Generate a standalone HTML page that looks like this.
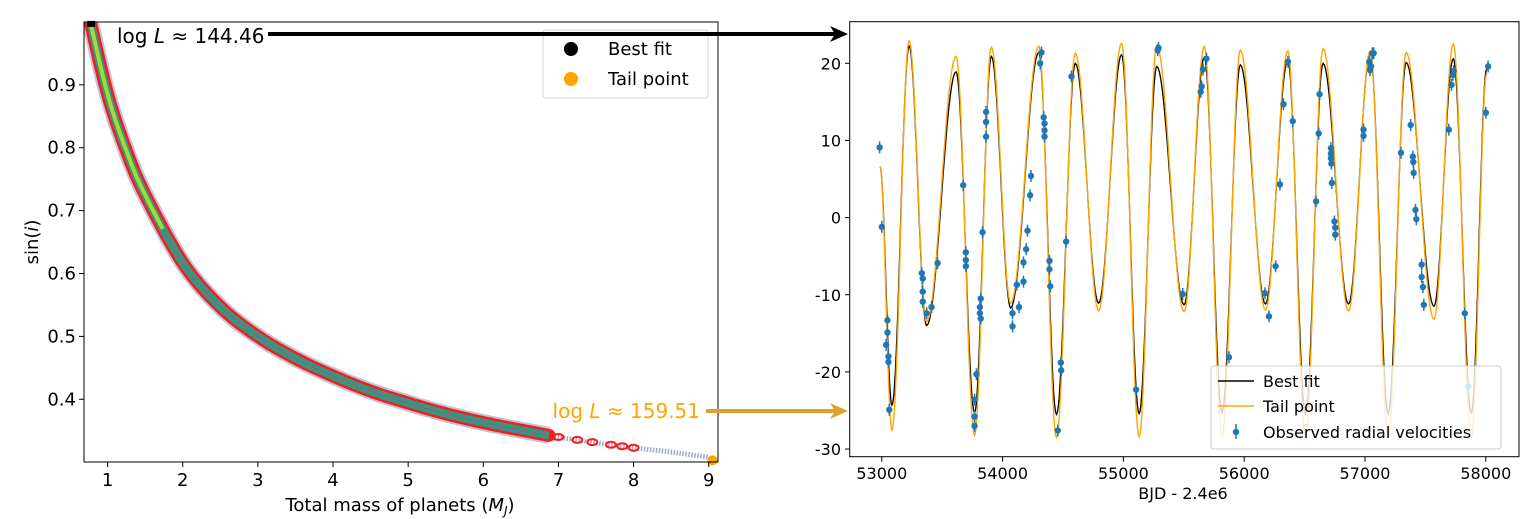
<!DOCTYPE html>
<html><head><meta charset="utf-8"><style>
html,body{margin:0;padding:0;background:#fff;}
svg{display:block;font-family:"DejaVu Sans","Liberation Sans",sans-serif;}
</style></head><body>
<svg id="fig" width="1535" height="519" viewBox="0 0 1535 519" xmlns="http://www.w3.org/2000/svg"></svg>
<script>
// ---- Left chart data ----
const massVals = [0.77,1.0,1.25,1.5,2.0,2.5,3.0,3.5,4.0,4.5,5.0,5.5,6.0,6.5,7.0,7.5,8.0,8.5,9.0];
const sinVals  = [1.0,0.885,0.795,0.725,0.617,0.547,0.50,0.465,0.437,0.413,0.394,0.377,0.363,0.351,0.340,0.331,0.323,0.316,0.308];
const leftXTicks = [1,2,3,4,5,6,7,8,9];
const leftYTicks = [0.4,0.5,0.6,0.7,0.8,0.9];
const bestFitPt = [0.78, 1.0];
const tailPt = [9.05, 0.303];
const redBlobM = [7.0,7.25,7.45,7.7,7.85,8.0];
// ---- Right chart data ----
const bestT = [52985,53084,53226,53371,53615,53768,53907,54067,54300,54446,54602,54795,54985,55130,55276,55502,55670,55816,55968,56176,56361,56507,56653,56864,57043,57192,57341,57571,57731,57880,58008];
const bestV = [6.6,-24.3,22.2,-14.0,18.9,-25.3,20.9,-11.7,21.4,-25.5,20.0,-11.1,21.1,-25.4,19.6,-11.3,20.8,-25.3,19.8,-11.2,20.4,-25.4,20.0,-11.2,21.3,-25.4,20.1,-11.5,20.6,-25.3,19.3];
const tailV = [6.6,-27.5,22.9,-13.5,20.9,-28.2,22.1,-11.1,22.2,-28.5,21.3,-12.1,22.6,-28.4,22.3,-12.2,22.2,-28.4,21.7,-12.0,21.6,-28.4,21.9,-12.1,21.6,-28.4,21.4,-13.2,22.5,-28.4,18.7];
const obsT = [52982,53000,53036,53047,53047,53055,53055,53062,53331,53339,53339,53339,53371,53412,53462,53674,53696,53696,53696,53768,53768,53768,53783,53812,53812,53819,53819,53834,53863,53863,53863,54082,54082,54118,54136,54173,54173,54195,54206,54228,54235,54311,54322,54340,54347,54347,54347,54388,54388,54395,54457,54482,54485,54526,54570,55105,55284,55291,55491,55640,55648,55659,55688,55874,56172,56205,56260,56296,56325,56362,56402,56595,56617,56624,56718,56718,56718,56722,56726,56747,56754,56754,56988,56988,57035,57042,57050,57061,57072,57298,57378,57396,57400,57403,57418,57425,57469,57469,57480,57487,57694,57716,57727,57734,57826,57855,58000,58019];
const obsV = [9.1,-1.2,-16.5,-13.3,-14.9,-18.0,-18.7,-24.9,-7.2,-7.9,-9.6,-10.9,-12.4,-11.6,-5.9,4.2,-4.5,-5.5,-6.3,-23.6,-25.8,-27.0,-20.3,-11.6,-12.4,-13.1,-10.5,-1.9,13.7,12.4,10.5,-12.4,-14.1,-8.7,-11.6,-8.3,-5.8,-4.1,-1.7,2.9,5.4,20.0,21.4,13.0,12.2,11.3,10.5,-5.6,-6.7,-8.9,-27.6,-18.8,-19.8,-3.1,18.3,-22.3,21.7,22.0,-9.9,16.3,17.0,19.2,20.6,-18.1,-9.8,-12.8,-6.3,4.3,14.7,20.2,12.5,2.1,10.9,16.0,9.0,8.3,7.7,7.0,4.5,-0.5,-1.3,-2.2,11.4,10.6,20.2,19.1,19.6,21.3,21.3,8.4,12.0,7.9,7.2,5.8,1.0,-0.2,-6.1,-7.7,-9.0,-11.3,11.4,17.2,18.5,19.0,-12.4,-21.9,13.6,19.6];
const rightXTicks = [53000,54000,55000,56000,57000,58000];
const rightYTicks = [-30,-20,-10,0,10,20];

const NS = "http://www.w3.org/2000/svg";
const svg = document.getElementById('fig');
function mk(tag, attrs, parent){ const e=document.createElementNS(NS,tag); for(const k in attrs) e.setAttribute(k,attrs[k]); (parent||svg).appendChild(e); return e; }

const lx = v => 107.6 + (v-1)*75.14;
const ly = v => 399.3 - (v-0.4)*629;
function interpSin(m){
  for(let i=0;i<massVals.length-1;i++){ if(m<=massVals[i+1]){ const f=(m-massVals[i])/(massVals[i+1]-massVals[i]); return sinVals[i]+(sinVals[i+1]-sinVals[i])*f; } }
  return sinVals[sinVals.length-1];
}
function smoothPath(maxM, minM){
  const P=[]; massVals.forEach((m,i)=>{ P.push([lx(m),ly(sinVals[i]),m]); });
  let d='';
  for(let i=0;i<P.length-1;i++){
    const p0=P[Math.max(0,i-1)],p1=P[i],p2=P[i+1],p3=P[Math.min(P.length-1,i+2)];
    for(let s=0;s<=12;s++){
      const t=s/12,t2=t*t,t3=t2*t;
      const x=0.5*((2*p1[0])+(-p0[0]+p2[0])*t+(2*p0[0]-5*p1[0]+4*p2[0]-p3[0])*t2+(-p0[0]+3*p1[0]-3*p2[0]+p3[0])*t3);
      const y=0.5*((2*p1[1])+(-p0[1]+p2[1])*t+(2*p0[1]-5*p1[1]+4*p2[1]-p3[1])*t2+(-p0[1]+3*p1[1]-3*p2[1]+p3[1])*t3);
      const m=p1[2]+(p2[2]-p1[2])*t;
      if(m>maxM || m<minM) continue;
      d+=(d?'L':'M')+x.toFixed(1)+','+y.toFixed(1);
    }
  }
  return d;
}
const gL = mk('g',{});


const clipL = mk('clipPath',{id:'clipL'}); mk('rect',{x:84,y:22,width:634,height:440},clipL);
const band = mk('g',{'clip-path':'url(#clipL)'},gL);


const dRed=smoothPath(6.9,0), dTop=smoothPath(1.75,0), dTail=smoothPath(99,6.8);
mk('path',{d:dTail,fill:'none',stroke:'#2b3d8a','stroke-width':5,'stroke-opacity':0.45,'stroke-dasharray':'1.5 1.5'},band);
mk('path',{d:dRed,fill:'none',stroke:'#2b3d8a','stroke-width':17,'stroke-opacity':0.3,'stroke-linejoin':'round'},band);
mk('path',{d:dRed,fill:'none',stroke:'#ff1a1a','stroke-width':13,'stroke-linejoin':'round','stroke-linecap':'round'},band);
mk('path',{d:dRed,fill:'none',stroke:'#2a9a8a','stroke-width':8,'stroke-linejoin':'round'},band);
mk('path',{d:dRed,fill:'none',stroke:'#ff3030','stroke-width':1,'stroke-linejoin':'round','stroke-opacity':0.7},band);
mk('path',{d:dTop,fill:'none',stroke:'#a8d832','stroke-width':4,'stroke-linejoin':'round'},band);
redBlobM.forEach(m=>{
  const c=mk('ellipse',{cx:lx(m),cy:ly(interpSin(m)),rx:5,ry:3,fill:'none',stroke:'#ff1a1a','stroke-width':2},band);
  
  
});
const bp = mk('rect',{x:lx(bestFitPt[0])-4,y:ly(bestFitPt[1])-1,width:8,height:6,fill:'#000'},gL);


const tp = mk('circle',{cx:lx(tailPt[0]),cy:ly(tailPt[1]),r:5,fill:'#ffa500'},gL);


mk('rect',{x:84,y:22,width:634,height:440,fill:'none',stroke:'#000','stroke-width':1},gL);
leftXTicks.forEach(v=>{
  mk('line',{x1:lx(v),x2:lx(v),y1:462,y2:467,stroke:'#000'},gL);
  const t=mk('text',{x:lx(v),y:486,'font-size':18,'text-anchor':'middle'},gL); t.textContent=v;
  
  
});
leftYTicks.forEach(v=>{
  mk('line',{x1:79,x2:84,y1:ly(v),y2:ly(v),stroke:'#000'},gL);
  const t=mk('text',{x:76,y:ly(v)+6,'font-size':18,'text-anchor':'end'},gL); t.textContent=v.toFixed(1);
  
  
});
const xl = mk('text',{x:400,y:511,'font-size':18,'text-anchor':'middle'},gL);
xl.innerHTML='Total mass of planets (<tspan font-style="italic">M</tspan><tspan font-style="italic" font-size="12" dy="4">J</tspan><tspan dy="-4">)</tspan>';


const yl = mk('text',{x:0,y:0,'font-size':18,'text-anchor':'middle',transform:'translate(38,242) rotate(-90)'},gL);
yl.innerHTML='sin(<tspan font-style="italic">i</tspan>)';


const lg = mk('g',{},gL);


mk('rect',{x:543,y:30,width:165,height:68,rx:3,fill:'#fff',stroke:'#ccc','stroke-opacity':0.8},lg);
mk('circle',{cx:571,cy:49,r:7,fill:'#000'},lg);
mk('circle',{cx:571,cy:79,r:7,fill:'#ffa500'},lg);
let t1=mk('text',{x:608,y:55,'font-size':18},lg); t1.textContent='Best fit';
let t2=mk('text',{x:608,y:85,'font-size':18},lg); t2.textContent='Tail point';

const a1 = mk('text',{x:117,y:43,'font-size':20});
a1.innerHTML='log<tspan font-style="italic"> L</tspan> ≈ 144.46';


const ar1 = mk('g',{});


mk('line',{x1:268,x2:836,y1:34,y2:34,stroke:'#000','stroke-width':4},ar1);
mk('path',{d:'M848,34 L830,26 L835,34 L830,42 Z',fill:'#000'},ar1);
const a2 = mk('text',{x:700,y:418,'font-size':20,'text-anchor':'end',fill:'#ffa500'});
a2.innerHTML='log<tspan font-style="italic"> L</tspan> ≈ 159.51';


const ar2 = mk('g',{});


mk('line',{x1:706,x2:836,y1:411,y2:411,stroke:'#e0a030','stroke-width':4},ar2);
mk('path',{d:'M848,411 L830,403 L835,411 L830,419 Z',fill:'#e0a030'},ar2);

const rx = v => 881.8 + (v-53000)*0.1208;
const ry = v => 217.6 - v*7.715;
const gR = mk('g',{});


const clipR = mk('clipPath',{id:'clipR'}); mk('rect',{x:850,y:22,width:669,height:435},clipR);
const plotR = mk('g',{'clip-path':'url(#clipR)'},gR);
function curvePath(T,V){
  let p='M'+rx(T[0]).toFixed(1)+','+ry(V[0]).toFixed(1);
  for(let i=0;i<T.length-1;i++){
    for(let s=1;s<=20;s++){
      const f=s/20, w=(1-Math.cos(Math.PI*f))/2;
      const t=T[i]+(T[i+1]-T[i])*f, v=V[i]+(V[i+1]-V[i])*w;
      p+='L'+rx(t).toFixed(1)+','+ry(v).toFixed(1);
    }
  }
  return p;
}
const cb = mk('path',{d:curvePath(bestT,bestV),fill:'none',stroke:'#000','stroke-width':1.3},plotR);


const ct = mk('path',{d:curvePath(bestT,tailV),fill:'none',stroke:'#ffa500','stroke-width':1.4},plotR);


const pts = mk('g',{},plotR);


obsT.forEach((t,i)=>{
  const X=rx(t), Y=ry(obsV[i]);
  mk('line',{x1:X,x2:X,y1:Y-6,y2:Y+6,stroke:'#1f77b4','stroke-width':1.5},pts);
  const c=mk('circle',{cx:X,cy:Y,r:3.2,fill:'#1f77b4'},pts);
  
  
});
mk('rect',{x:849.7,y:21.7,width:669.3,height:435,fill:'none',stroke:'#000','stroke-width':1},gR);
rightXTicks.forEach(v=>{
  mk('line',{x1:rx(v),x2:rx(v),y1:456.7,y2:461.7,stroke:'#000'},gR);
  const t=mk('text',{x:rx(v),y:479,'font-size':16,'text-anchor':'middle'},gR); t.textContent=v;
  
  
});
rightYTicks.forEach(v=>{
  mk('line',{x1:845,x2:849.7,y1:ry(v),y2:ry(v),stroke:'#000'},gR);
  const t=mk('text',{x:841,y:ry(v)+6,'font-size':16,'text-anchor':'end'},gR); t.textContent=v;
  
  
});
const rxl = mk('text',{x:1183,y:499,'font-size':16,'text-anchor':'middle'},gR); rxl.textContent='BJD - 2.4e6';


const rl = mk('g',{},gR);


mk('rect',{x:1211,y:366,width:290,height:83,rx:3,fill:'#fff','fill-opacity':0.8,stroke:'#ccc'},rl);
mk('line',{x1:1218,x2:1254,y1:381,y2:381,stroke:'#000','stroke-width':1.5},rl);
mk('line',{x1:1218,x2:1254,y1:406,y2:406,stroke:'#ffa500','stroke-width':1.5},rl);
mk('line',{x1:1236,x2:1236,y1:424,y2:439,stroke:'#1f77b4','stroke-width':1.5},rl);
mk('circle',{cx:1236,cy:432,r:3.2,fill:'#1f77b4'},rl);
let r1=mk('text',{x:1263,y:387,'font-size':16},rl); r1.textContent='Best fit';
let r2=mk('text',{x:1263,y:412,'font-size':16},rl); r2.textContent='Tail point';
let r3=mk('text',{x:1263,y:438,'font-size':16},rl); r3.textContent='Observed radial velocities';
</script>
</body></html>
